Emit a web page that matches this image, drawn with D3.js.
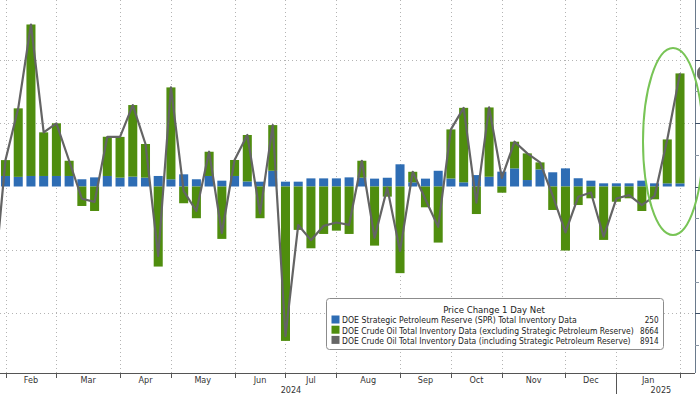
<!DOCTYPE html>
<html>
<head>
<meta charset="utf-8">
<script src="https://cdn.jsdelivr.net/npm/d3@7"></script>
<style>
  body { margin: 0; background: #fff; }
  svg { display: block; font-family: "DejaVu Sans Condensed", "DejaVu Sans", sans-serif; }
</style>
</head>
<body>
<svg id="chart"></svg>
<script>
// weekly EIA data, thousands of barrels (week ending Friday)
const weeks = [
  "2024-01-19", "2024-01-26", "2024-02-02", "2024-02-09", "2024-02-16", "2024-02-23",
  "2024-03-01", "2024-03-08", "2024-03-15", "2024-03-22", "2024-03-29",
  "2024-04-05", "2024-04-12", "2024-04-19", "2024-04-26",
  "2024-05-03", "2024-05-10", "2024-05-17", "2024-05-24", "2024-05-31",
  "2024-06-07", "2024-06-14", "2024-06-21", "2024-06-28",
  "2024-07-05", "2024-07-12", "2024-07-19", "2024-07-26",
  "2024-08-02", "2024-08-09", "2024-08-16", "2024-08-23", "2024-08-30",
  "2024-09-06", "2024-09-13", "2024-09-20", "2024-09-27",
  "2024-10-04", "2024-10-11", "2024-10-18", "2024-10-25",
  "2024-11-01", "2024-11-08", "2024-11-15", "2024-11-22", "2024-11-29",
  "2024-12-06", "2024-12-13", "2024-12-20", "2024-12-27",
  "2025-01-03", "2025-01-10", "2025-01-17", "2025-01-24", "2025-01-31"
]
const sprChange = [
  600, 830, 760, 830, 830, 830,
  830, 570, 720, 830, 700,
  780, 700, 830, 570,
  960, 570, 830, 460, 830,
  400, 380, 1240, 380,
  380, 640, 640, 640,
  720, 700, 620, 690, 1750,
  330, 620, 1240, 630,
  330, 900, 770, 1170,
  1430, 510, 1350, 1120, 1430,
  650, 460, 250, 250,
  250, 460, 250, 250, 250
]
const crudeExSpr = [
  -9230, 1250, 5400, 11940, 3440, 4150,
  1200, -1535, -1930, 3090, 3210,
  5640, 2650, -6310, 7240,
  -1320, -2500, 1910, -4130, 1260,
  3660, -2500, 3600, -12170,
  -3420, -4870, -3740, -3480,
  -3740, 1330, -4660, -800, -6830,
  830, -1640, -4420, 3870,
  5870, -2170, 5460, -490,
  2100, 2100, 550, -1850, -5050,
  -1460, -930, -4210, -1200,
  -930, -1930, -1010, 3460, 8664
]
const crudeTotal = [
  -8630, 2080, 6160, 12770, 4270, 4980,
  2030, -965, -1210, 3920, 3910,
  6420, 3350, -5480, 7810,
  -360, -1930, 2740, -3670, 2090,
  4060, -2120, 4840, -11790,
  -3040, -4230, -3100, -2840,
  -3020, 2030, -4040, -110, -5080,
  1160, -1020, -3180, 4500,
  6200, -1270, 6230, 680,
  3530, 2610, 1900, -730, -3620,
  -810, -470, -3960, -950,
  -680, -1470, -760, 3710, 8914
]
const tickWeeks = ["2024-01-26", "2024-02-23", "2024-03-29", "2024-04-26", "2024-05-31", "2024-06-28",
  "2024-07-26", "2024-08-30", "2024-09-27", "2024-10-25", "2024-11-29", "2024-12-27", "2025-01-31"]
const monthLabels = ["Feb", "Mar", "Apr", "May", "Jun", "Jul", "Aug", "Sep", "Oct", "Nov", "Dec", "Jan"]
const yearLabels = [
  {text: "2024", from: "2024-01-04", to: "2024-12-27"},
  {text: "2025", from: "2024-12-27", to: "2025-02-14"}
]
const yTicks = [-12500, -10000, -7500, -5000, -2500, 0, 2500, 5000, 7500, 10000, 12500]
const yGrid = [-10000, -5000, 5000, 10000]
const legendTitle = "Price Change 1 Day Net"
const legendItems = [
  {label: "DOE Strategic Petroleum Reserve (SPR) Total Inventory Data", value: "250", color: "#2e6db4", width: 235},
  {label: "DOE Crude Oil Total Inventory Data (excluding Strategic Petroleum Reserve)", value: "8664", color: "#4f8d0e", width: 292},
  {label: "DOE Crude Oil Total Inventory Data (including Strategic Petroleum Reserve)", value: "8914", color: "#666666", width: 289}
]

const width = 700, height = 394
const plot = {left: 0, right: 695, top: 0, bottom: 373}
const colors = {spr: "#2e6db4", crude: "#4f8d0e", total: "#646464"}

const svg = d3.select("#chart").attr("width", width).attr("height", height)
const parse = d3.utcParse("%Y-%m-%d")

const rows = weeks.map((w, i) => ({date: parse(w), spr: sprChange[i], crude: crudeExSpr[i], total: crudeTotal[i]}))

const x = d3.scaleUtc().domain([parse("2024-01-26"), parse("2025-01-31")]).range([5.5, 680])
const y = d3.scaleLinear().domain([-14700, 14700]).range([plot.bottom, plot.top])
const barW = (x(parse("2024-02-02")) - x(parse("2024-01-26"))) * 0.71

svg.append("defs").append("clipPath").attr("id", "plot-clip")
  .append("rect").attr("x", plot.left).attr("y", plot.top)
  .attr("width", plot.right - plot.left).attr("height", plot.bottom - plot.top)

// grid
const grid = svg.append("g").attr("stroke", "#b4b4b4").attr("stroke-width", 1).attr("stroke-dasharray", "1,3")
grid.selectAll(".hg").data(yGrid).join("line").attr("class", "hg")
  .attr("x1", plot.left).attr("x2", plot.right)
  .attr("y1", d => Math.round(y(d)) + 0.5).attr("y2", d => Math.round(y(d)) + 0.5)
grid.selectAll(".vg").data(tickWeeks).join("line").attr("class", "vg")
  .attr("x1", d => Math.round(x(parse(d))) + 0.5).attr("x2", d => Math.round(x(parse(d))) + 0.5)
  .attr("y1", plot.top).attr("y2", plot.bottom)

// bars
const stack = d3.stack().keys(["spr", "crude"]).offset(d3.stackOffsetDiverging)
const series = stack(rows)
const barG = svg.append("g").attr("clip-path", "url(#plot-clip)")
barG.selectAll("g").data(series).join("g")
  .attr("fill", d => colors[d.key])
  .selectAll("rect").data(d => d).join("rect")
  .attr("x", d => x(d.data.date) - barW / 2)
  .attr("width", barW)
  .attr("y", d => y(Math.max(d[0], d[1])))
  .attr("height", d => Math.abs(y(d[0]) - y(d[1])))

// total line
const line = d3.line().x(d => x(d.date)).y(d => y(d.total))
barG.append("path").datum(rows)
  .attr("d", line).attr("fill", "none")
  .attr("stroke", colors.total).attr("stroke-width", 2.2).attr("stroke-linejoin", "round")

// x axis
const axisG = svg.append("g")
axisG.append("line").attr("x1", plot.left).attr("x2", plot.right)
  .attr("y1", plot.bottom + 0.5).attr("y2", plot.bottom + 0.5).attr("stroke", "#555")
axisG.selectAll(".xt").data(tickWeeks).join("line").attr("class", "xt")
  .attr("x1", d => Math.round(x(parse(d))) + 0.5).attr("x2", d => Math.round(x(parse(d))) + 0.5)
  .attr("y1", plot.bottom).attr("y2", d => d === "2024-12-27" ? height : plot.bottom + 5)
  .attr("stroke", "#555")
axisG.selectAll(".ml").data(monthLabels).join("text").attr("class", "ml")
  .attr("x", (d, i) => (x(parse(tickWeeks[i])) + x(parse(tickWeeks[i + 1]))) / 2)
  .attr("y", 383).attr("text-anchor", "middle")
  .attr("font-size", 9).attr("fill", "#333").text(d => d)
axisG.selectAll(".yl").data(yearLabels).join("text").attr("class", "yl")
  .attr("x", d => (x(parse(d.from)) + x(parse(d.to))) / 2)
  .attr("y", 393).attr("text-anchor", "middle")
  .attr("font-size", 9).attr("fill", "#333").text(d => d.text)

// right y axis (labels fall outside the frame)
const yAxisG = svg.append("g")
yAxisG.append("line").attr("x1", plot.right + 0.5).attr("x2", plot.right + 0.5)
  .attr("y1", plot.top).attr("y2", plot.bottom).attr("stroke", "#6a7a8c")
yAxisG.selectAll("line.yt").data(yTicks).join("line").attr("class", "yt")
  .attr("x1", plot.right).attr("x2", d => d % 5000 === 0 ? plot.right + 6 : plot.right + 4)
  .attr("y1", d => Math.round(y(d)) + 0.5).attr("y2", d => Math.round(y(d)) + 0.5)
  .attr("stroke", d => d % 5000 === 0 ? "#3d4f66" : "#8a96a4")
yAxisG.append("rect")
  .attr("x", plot.right + 2).attr("y", y(crudeTotal[crudeTotal.length - 1]) - 8)
  .attr("width", 30).attr("height", 16).attr("rx", 7)
  .attr("fill", "#6a6a6a")

// highlight ellipse around latest builds
svg.append("ellipse")
  .attr("cx", x(parse("2025-01-31")) - 7).attr("cy", y(3550))
  .attr("rx", 30).attr("ry", 93.5)
  .attr("fill", "none").attr("stroke", "#78c456").attr("stroke-width", 2)

// legend
const lg = svg.append("g")
lg.append("rect").attr("x", 326.5).attr("y", 298.5).attr("width", 337).attr("height", 51)
  .attr("rx", 3).attr("fill", "#fff").attr("stroke", "#8c8c8c")
lg.append("text").attr("x", 494).attr("y", 313).attr("text-anchor", "middle")
  .attr("font-size", 9.5).attr("fill", "#222").text(legendTitle)
const li = lg.selectAll(".li").data(legendItems).join("g").attr("class", "li")
  .attr("transform", (d, i) => `translate(0, ${320 + i * 10.2})`)
li.append("rect").attr("x", 331.5).attr("y", -4.5).attr("width", 8).attr("height", 8).attr("fill", d => d.color)
// squeeze labels horizontally to the reference's narrow font width
li.append("text").attr("x", 0).attr("y", 3.4).attr("font-size", 9.5).attr("fill", "#222")
  .text(d => d.label)
  .attr("transform", function(d) {
    const natural = this.getComputedTextLength()
    return `translate(342, 0) scale(${d.width / natural}, 1)`
  })
li.append("text").attr("x", 0).attr("y", 3.4).attr("font-size", 9.5).attr("fill", "#222")
  .attr("text-anchor", "end").text(d => d.value)
  .attr("transform", "translate(658.5, 0) scale(0.85, 1)")
</script>
</body>
</html>
